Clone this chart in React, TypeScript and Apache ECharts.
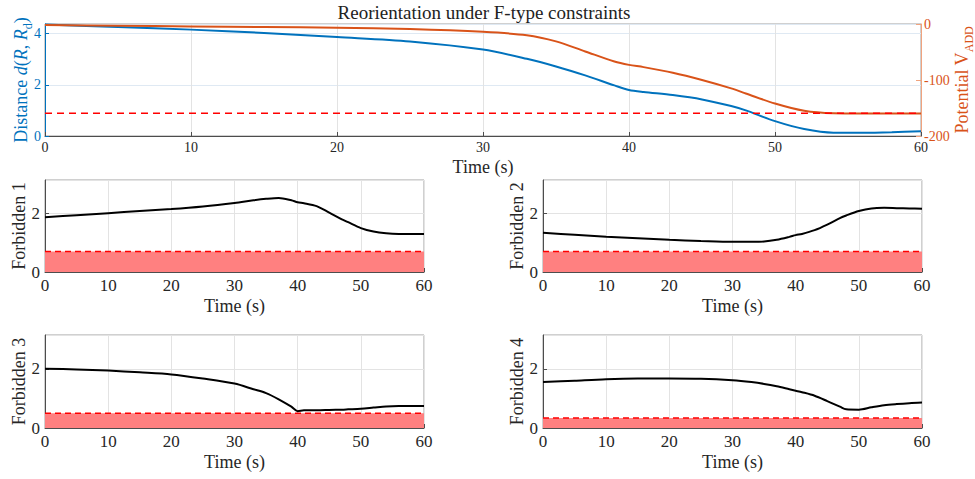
import React, { useEffect, useRef } from "react";
import * as echarts from "echarts";

// ---- data ----
const time = [0, 5, 10, 15, 20, 25, 30, 33, 35, 37, 39, 40, 41, 43, 45, 47, 48, 50, 52, 54, 56, 58, 60];
const distance = [4.36, 4.26, 4.16, 4.03, 3.87, 3.7, 3.38, 3.02, 2.72, 2.37, 1.98, 1.8, 1.72, 1.6, 1.43, 1.17, 1.0, 0.58, 0.27, 0.13, 0.13, 0.15, 0.19];
const potential = [-2, -3, -4.5, -5.5, -6.5, -9, -14, -20, -31, -49, -67, -73, -77, -87, -100, -115, -124, -142, -155, -159.5, -160, -160, -160];
const distanceThreshold = 0.89;
const forbidden1 = [1.87, 1.94, 2.01, 2.08, 2.15, 2.24, 2.36, 2.45, 2.5, 2.53, 2.45, 2.38, 2.35, 2.25, 2.03, 1.8, 1.7, 1.5, 1.38, 1.32, 1.3, 1.3, 1.3];
const forbidden2 = [1.34, 1.27, 1.2, 1.15, 1.1, 1.06, 1.03, 1.03, 1.04, 1.1, 1.2, 1.26, 1.3, 1.43, 1.62, 1.84, 1.93, 2.08, 2.17, 2.19, 2.18, 2.17, 2.16];
const forbidden3 = [2.0, 1.98, 1.94, 1.88, 1.81, 1.67, 1.5, 1.31, 1.18, 0.97, 0.72, 0.57, 0.6, 0.6, 0.61, 0.62, 0.63, 0.65, 0.69, 0.73, 0.74, 0.74, 0.74];
const forbidden4 = [1.55, 1.6, 1.65, 1.67, 1.67, 1.66, 1.61, 1.55, 1.49, 1.41, 1.31, 1.26, 1.21, 1.09, 0.91, 0.72, 0.63, 0.62, 0.7, 0.77, 0.81, 0.84, 0.86];
const forbiddenThresholds = [0.7, 0.7, 0.5, 0.34];
const forbiddenNames = ["Forbidden 1", "Forbidden 2", "Forbidden 3", "Forbidden 4"];
const titleText = "Reorientation under F-type constraints";
const timeLabel = "Time (s)";

const FONT = "Liberation Serif, serif";
const BLUE = "#0072BD";
const ORANGE = "#D95319";
const TXT = "#262626";

const pair = (ys: number[]) => time.map((t, i) => [t, ys[i]]);

export default function App() {
  const ref = useRef<HTMLDivElement>(null);
  useEffect(() => {
    if (!ref.current) return;
    const chart = echarts.init(ref.current, null, { renderer: "svg" });

    const subGrids = [
      { left: 45, top: 180, width: 379, height: 92 },
      { left: 543, top: 180, width: 379, height: 92 },
      { left: 45, top: 335, width: 379, height: 93 },
      { left: 543, top: 335, width: 379, height: 93 },
    ];
    const gridCommon = { show: true, borderColor: "#a0a0a0", borderWidth: 1, containLabel: false, outerBoundsMode: "none" };
    const grids: any[] = [
      { left: 45, top: 24, width: 876, height: 112, ...gridCommon },
      ...subGrids.map((g) => ({ ...g, ...gridCommon })),
    ];

    const xAxisBase = (gi: number, top: boolean) => ({
      type: "value",
      gridIndex: gi,
      min: 0,
      max: 60,
      interval: 10,
      name: timeLabel,
      nameLocation: "middle",
      nameGap: top ? 22 : 25,
      nameTextStyle: { fontFamily: FONT, fontSize: 18, color: TXT },
      axisLine: { show: true, lineStyle: { color: "#4d4d4d", width: 1 } },
      axisTick: { show: true, inside: true, length: 4, lineStyle: { color: "#4d4d4d" } },
      axisLabel: { fontFamily: FONT, fontSize: top ? 14 : 17, color: TXT, margin: top ? 4 : 5 },
      splitLine: { show: true, lineStyle: { color: "#e3e3e3", width: 1 } },
    });

    const xAxes = [xAxisBase(0, true), ...subGrids.map((_, i) => xAxisBase(i + 1, false))];

    const yAxes: any[] = [
      {
        type: "value",
        gridIndex: 0,
        min: 0,
        max: 4.38,
        interval: 2,
        position: "left",
        axisLine: { show: true, lineStyle: { color: BLUE, width: 1 } },
        axisTick: { show: true, inside: true, length: 4, lineStyle: { color: BLUE } },
        axisLabel: { fontFamily: FONT, fontSize: 14, color: BLUE, margin: 4, showMaxLabel: false },
        splitLine: { show: true, lineStyle: { color: "#dfe9f3", width: 1 } },
      },
      {
        type: "value",
        gridIndex: 0,
        min: -200,
        max: 0,
        interval: 100,
        position: "right",
        axisLine: { show: true, lineStyle: { color: "#f0a37e", width: 1 } },
        axisTick: { show: true, inside: true, length: 5, lineStyle: { color: "#f0a37e" } },
        axisLabel: { fontFamily: FONT, fontSize: 14, color: ORANGE, margin: 3 },
        splitLine: { show: false },
      },
      ...subGrids.map((_, i) => ({
        type: "value",
        gridIndex: i + 1,
        min: 0,
        max: Math.PI,
        interval: 2,
        name: forbiddenNames[i],
        nameLocation: "middle",
        nameGap: 17,
        nameRotate: 90,
        nameTextStyle: { fontFamily: FONT, fontSize: 18, color: TXT },
        axisLine: { show: true, lineStyle: { color: "#4d4d4d", width: 1 } },
        axisTick: { show: true, inside: true, length: 4, lineStyle: { color: "#4d4d4d" } },
        axisLabel: { fontFamily: FONT, fontSize: 17, color: TXT, margin: 5, showMaxLabel: false },
        splitLine: { show: true, lineStyle: { color: "#e3e3e3", width: 1 } },
      })),
    ];

    const forbiddenData = [forbidden1, forbidden2, forbidden3, forbidden4];
    const subSeries: any[] = [];
    forbiddenData.forEach((ys, i) => {
      subSeries.push({
        type: "line",
        xAxisIndex: i + 1,
        yAxisIndex: i + 2,
        data: [[0, forbiddenThresholds[i]], [60, forbiddenThresholds[i]]],
        showSymbol: false,
        symbol: "none",
        lineStyle: { color: "#FF0000", type: [6, 4], width: 1.5 },
        areaStyle: { color: "#FF8080", opacity: 1 },
        z: 2,
      });
      subSeries.push({
        type: "line",
        xAxisIndex: i + 1,
        yAxisIndex: i + 2,
        data: pair(ys),
        smooth: 0.3,
        showSymbol: false,
        symbol: "none",
        lineStyle: { color: "#000000", width: 2 },
        z: 3,
      });
    });

    const richBlue = {
      a: { fontFamily: FONT, fontSize: 18, fill: BLUE, color: BLUE, lineHeight: 20, verticalAlign: "middle" },
      i: { fontFamily: FONT, fontSize: 18, fill: BLUE, color: BLUE, fontStyle: "italic", lineHeight: 20, verticalAlign: "middle" },
      s: { fontFamily: FONT, fontSize: 12, fill: BLUE, color: BLUE, lineHeight: 26, verticalAlign: "bottom" },
    };
    const richOrange = {
      a: { fontFamily: FONT, fontSize: 18, fill: ORANGE, color: ORANGE, lineHeight: 20, verticalAlign: "middle" },
      s: { fontFamily: FONT, fontSize: 12, fill: ORANGE, color: ORANGE, lineHeight: 25, verticalAlign: "bottom" },
    };

    chart.setOption({
      animation: false,
      backgroundColor: "#ffffff",
      textStyle: { fontFamily: FONT },
      grid: grids,
      xAxis: xAxes,
      yAxis: yAxes,
      graphic: [
        {
          type: "text",
          x: 484,
          y: 12,
          style: {
            text: titleText,
            fontFamily: FONT,
            fontSize: 19,
            fill: "#222",
            textAlign: "center",
            textVerticalAlign: "middle",
          },
        },
        {
          type: "text",
          x: 21,
          y: 80,
          rotation: Math.PI / 2,
          style: {
            text: "{a|Distance }{i|d}{a|(}{i|R}{a|, }{i|R}{s|d}{a|)}",
            rich: richBlue,
            fontFamily: FONT,
            fontSize: 18,
            fill: BLUE,
            align: "center",
            verticalAlign: "middle",
          },
        },
        {
          type: "text",
          x: 962,
          y: 80,
          rotation: Math.PI / 2,
          style: {
            text: "{a|Potential V}{s|ADD}",
            rich: richOrange,
            fontFamily: FONT,
            fontSize: 18,
            fill: ORANGE,
            align: "center",
            verticalAlign: "middle",
          },
        },
      ],
      series: [
        {
          type: "line",
          xAxisIndex: 0,
          yAxisIndex: 0,
          data: pair(distance),
          smooth: 0.3,
          showSymbol: false,
          symbol: "none",
          lineStyle: { color: BLUE, width: 2 },
          z: 3,
        },
        {
          type: "line",
          xAxisIndex: 0,
          yAxisIndex: 1,
          data: pair(potential),
          smooth: 0.3,
          showSymbol: false,
          symbol: "none",
          lineStyle: { color: ORANGE, width: 2 },
          z: 3,
        },
        {
          type: "line",
          xAxisIndex: 0,
          yAxisIndex: 0,
          data: [[0, distanceThreshold], [60, distanceThreshold]],
          showSymbol: false,
          symbol: "none",
          lineStyle: { color: "#FF0000", type: [7, 5], width: 1.5 },
          z: 4,
        },
        ...subSeries,
      ],
    });
    return () => chart.dispose();
  }, []);

  return (
    <div
      ref={ref}
      style={{ position: "absolute", left: 0, top: 0, width: 975, height: 479, background: "#fff" }}
    />
  );
}
